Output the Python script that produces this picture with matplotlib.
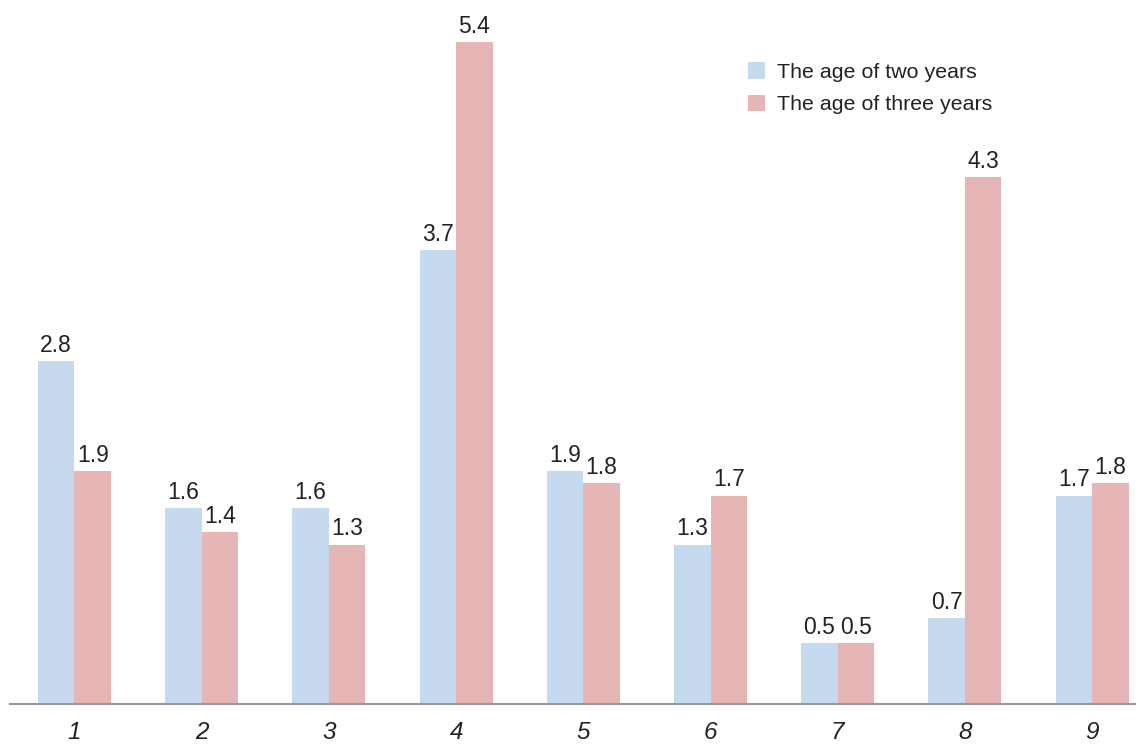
import matplotlib
matplotlib.use("Agg")
import matplotlib.pyplot as plt
import numpy as np

categories = ["1", "2", "3", "4", "5", "6", "7", "8", "9"]
two_years = [2.8, 1.6, 1.6, 3.7, 1.9, 1.3, 0.5, 0.7, 1.7]
three_years = [1.9, 1.4, 1.3, 5.4, 1.8, 1.7, 0.5, 4.3, 1.8]
series_names = ["The age of two years", "The age of three years"]

plt.rcParams['font.family'] = ['Liberation Sans', 'DejaVu Sans']

fig = plt.figure(figsize=(11.45, 7.45), dpi=100)
ax = fig.add_axes([10/1145, 41/745, 1125/1145, 704/745])

x = np.arange(len(categories))
w = 0.287
blue = "#c5d9ef"
pink = "#e6b5b5"
b1 = ax.bar(x - w/2, two_years, w, color=blue, label=series_names[0])
b2 = ax.bar(x + w/2, three_years, w, color=pink, label=series_names[1])

for bars, vals in ((b1, two_years), (b2, three_years)):
    for r, v in zip(bars, vals):
        ax.annotate(f"{v:.1f}", (r.get_x() + r.get_width()/2, v),
                    xytext=(0, 3), textcoords="offset points",
                    ha="center", va="bottom", fontsize=16.5, color="#222222")

ax.set_xlim(-0.507, 8.337)
ax.set_ylim(0, 704/122.6)
for s in ["top", "right", "left"]:
    ax.spines[s].set_visible(False)
ax.spines["bottom"].set_color("#999999")
ax.spines["bottom"].set_linewidth(1.5)
ax.set_yticks([])
ax.set_xticks(x)
ax.set_xticklabels(categories, fontsize=17.5, style="italic", color="#222222")
ax.tick_params(axis="x", length=0, pad=12.5)

leg = fig.legend(loc="upper left", bbox_to_anchor=(729/1145, 1 - 43/745),
                 frameon=False, fontsize=15.4, handlelength=0.8, handleheight=0.8,
                 handletextpad=0.55, labelspacing=0.6)
for t in leg.get_texts():
    t.set_color("#222222")

fig.savefig("out.png", dpi=100)
